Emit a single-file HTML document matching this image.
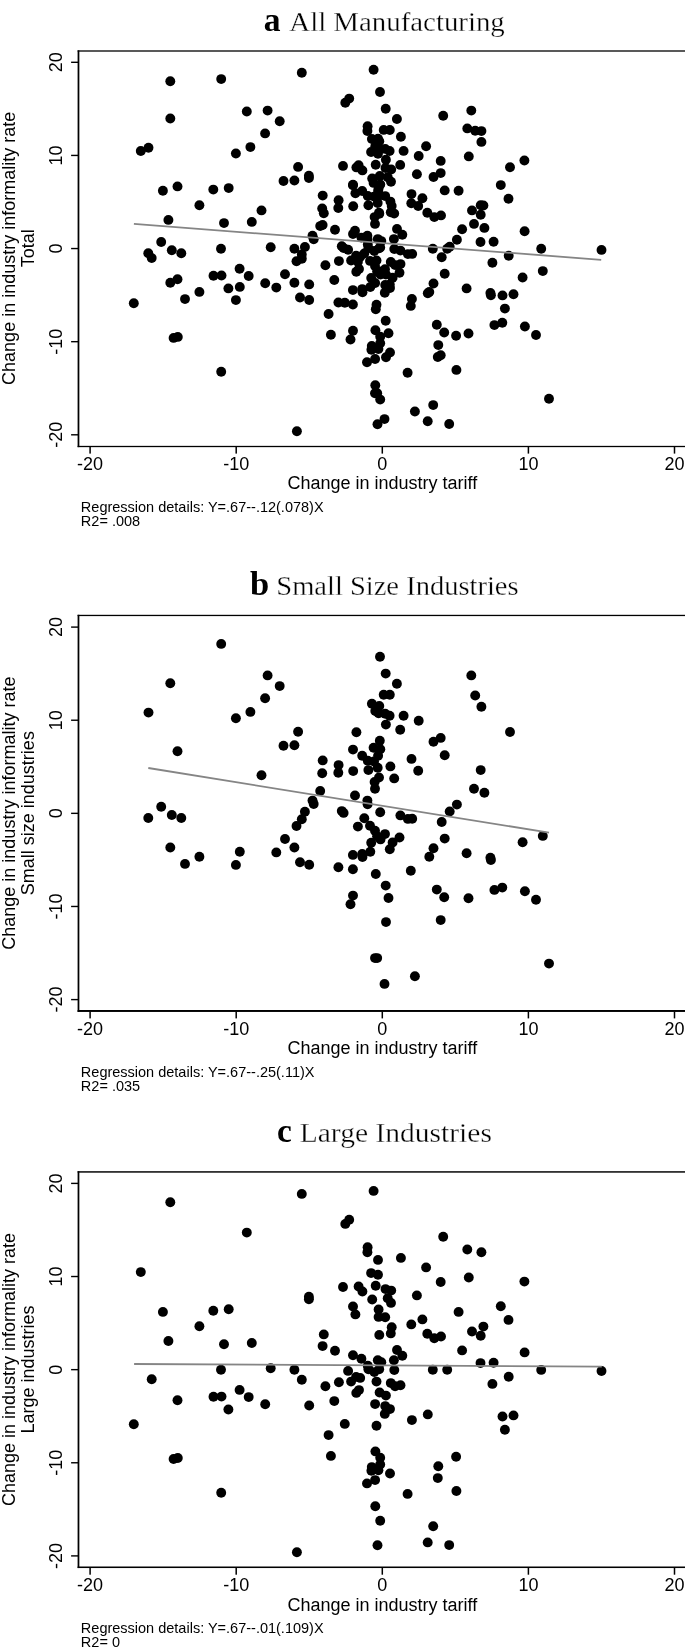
<!DOCTYPE html>
<html><head><meta charset="utf-8"><style>
html,body{margin:0;padding:0;background:#fff;}
svg{display:block;will-change:transform;}
text{-webkit-font-smoothing:antialiased;}
</style></head><body>
<svg width="685" height="1652" viewBox="0 0 685 1652">
<rect width="685" height="1652" fill="#fff"/>
<rect x="77.6" y="50.35" width="622.40" height="1.3" fill="#000"/>
<rect x="77.6" y="50.35" width="1.75" height="396.80" fill="#000"/>
<rect x="77.6" y="445.85" width="622.40" height="1.3" fill="#000"/>
<rect x="71.1" y="61.60" width="7.25" height="1.4" fill="#000"/>
<text x="0" y="0" transform="translate(62.1 62.30) rotate(-90)" text-anchor="middle" font-family='"Liberation Sans", sans-serif' font-size="18">20</text>
<rect x="71.1" y="154.73" width="7.25" height="1.4" fill="#000"/>
<text x="0" y="0" transform="translate(62.1 155.43) rotate(-90)" text-anchor="middle" font-family='"Liberation Sans", sans-serif' font-size="18">10</text>
<rect x="71.1" y="247.85" width="7.25" height="1.4" fill="#000"/>
<text x="0" y="0" transform="translate(62.1 248.55) rotate(-90)" text-anchor="middle" font-family='"Liberation Sans", sans-serif' font-size="18">0</text>
<rect x="71.1" y="340.98" width="7.25" height="1.4" fill="#000"/>
<text x="0" y="0" transform="translate(62.1 341.68) rotate(-90)" text-anchor="middle" font-family='"Liberation Sans", sans-serif' font-size="18">-10</text>
<rect x="71.1" y="434.10" width="7.25" height="1.4" fill="#000"/>
<text x="0" y="0" transform="translate(62.1 434.80) rotate(-90)" text-anchor="middle" font-family='"Liberation Sans", sans-serif' font-size="18">-20</text>
<rect x="89.35" y="446.65" width="1.5" height="6.95" fill="#000"/>
<text x="90.10" y="470.00" text-anchor="middle" font-family='"Liberation Sans", sans-serif' font-size="18">-20</text>
<rect x="235.45" y="446.65" width="1.5" height="6.95" fill="#000"/>
<text x="236.20" y="470.00" text-anchor="middle" font-family='"Liberation Sans", sans-serif' font-size="18">-10</text>
<rect x="381.55" y="446.65" width="1.5" height="6.95" fill="#000"/>
<text x="382.30" y="470.00" text-anchor="middle" font-family='"Liberation Sans", sans-serif' font-size="18">0</text>
<rect x="527.65" y="446.65" width="1.5" height="6.95" fill="#000"/>
<text x="528.40" y="470.00" text-anchor="middle" font-family='"Liberation Sans", sans-serif' font-size="18">10</text>
<rect x="673.75" y="446.65" width="1.5" height="6.95" fill="#000"/>
<text x="674.50" y="470.00" text-anchor="middle" font-family='"Liberation Sans", sans-serif' font-size="18">20</text>
<text x="382.4" y="489.40" text-anchor="middle" font-family='"Liberation Sans", sans-serif' font-size="18">Change in industry tariff</text>
<text transform="translate(15.3 248.35) rotate(-90)" text-anchor="middle" font-family='"Liberation Sans", sans-serif' font-size="18">Change in industry informality rate</text>
<text transform="translate(33.7 248.35) rotate(-90)" text-anchor="middle" font-family='"Liberation Sans", sans-serif' font-size="18">Total</text>
<text x="80.85" y="511.90" font-family='"Liberation Sans", sans-serif' font-size="14.5">Regression details: Y=.67--.12(.078)X</text>
<text x="80.85" y="525.90" font-family='"Liberation Sans", sans-serif' font-size="14.5">R2= .008</text>
<circle cx="221.2" cy="79.1" r="4.95"/>
<circle cx="170.3" cy="118.5" r="4.95"/>
<circle cx="148.5" cy="147.8" r="4.95"/>
<circle cx="235.9" cy="153.5" r="4.95"/>
<circle cx="250.4" cy="147.1" r="4.95"/>
<circle cx="267.6" cy="110.6" r="4.95"/>
<circle cx="279.7" cy="121.3" r="4.95"/>
<circle cx="265.1" cy="133.4" r="4.95"/>
<circle cx="298.1" cy="166.9" r="4.95"/>
<circle cx="380.0" cy="92.0" r="4.95"/>
<circle cx="385.7" cy="108.8" r="4.95"/>
<circle cx="396.9" cy="119.0" r="4.95"/>
<circle cx="383.7" cy="129.9" r="4.95"/>
<circle cx="389.8" cy="130.0" r="4.95"/>
<circle cx="371.9" cy="139.0" r="4.95"/>
<circle cx="379.3" cy="141.2" r="4.95"/>
<circle cx="375.3" cy="146.3" r="4.95"/>
<circle cx="385.2" cy="148.9" r="4.95"/>
<circle cx="389.6" cy="151.0" r="4.95"/>
<circle cx="385.9" cy="159.8" r="4.95"/>
<circle cx="403.6" cy="150.9" r="4.95"/>
<circle cx="400.2" cy="164.9" r="4.95"/>
<circle cx="356.4" cy="167.4" r="4.95"/>
<circle cx="379.8" cy="176.0" r="4.95"/>
<circle cx="471.3" cy="110.6" r="4.95"/>
<circle cx="475.2" cy="130.7" r="4.95"/>
<circle cx="481.4" cy="141.9" r="4.95"/>
<circle cx="418.7" cy="156.0" r="4.95"/>
<circle cx="440.7" cy="173.1" r="4.95"/>
<circle cx="433.5" cy="177.0" r="4.95"/>
<circle cx="510.0" cy="167.2" r="4.95"/>
<circle cx="177.5" cy="186.4" r="4.95"/>
<circle cx="161.2" cy="242.0" r="4.95"/>
<circle cx="148.3" cy="253.2" r="4.95"/>
<circle cx="171.8" cy="250.2" r="4.95"/>
<circle cx="181.3" cy="253.2" r="4.95"/>
<circle cx="170.3" cy="282.7" r="4.95"/>
<circle cx="185.0" cy="299.1" r="4.95"/>
<circle cx="199.4" cy="291.9" r="4.95"/>
<circle cx="239.8" cy="286.9" r="4.95"/>
<circle cx="235.9" cy="300.1" r="4.95"/>
<circle cx="283.5" cy="181.0" r="4.95"/>
<circle cx="294.4" cy="180.5" r="4.95"/>
<circle cx="261.5" cy="210.4" r="4.95"/>
<circle cx="322.7" cy="195.6" r="4.95"/>
<circle cx="322.2" cy="208.4" r="4.95"/>
<circle cx="320.2" cy="226.1" r="4.95"/>
<circle cx="353.0" cy="184.8" r="4.95"/>
<circle cx="373.6" cy="182.9" r="4.95"/>
<circle cx="380.3" cy="184.4" r="4.95"/>
<circle cx="362.2" cy="191.0" r="4.95"/>
<circle cx="378.1" cy="191.0" r="4.95"/>
<circle cx="367.8" cy="196.0" r="4.95"/>
<circle cx="374.0" cy="196.6" r="4.95"/>
<circle cx="338.6" cy="200.3" r="4.95"/>
<circle cx="338.3" cy="208.0" r="4.95"/>
<circle cx="353.2" cy="206.3" r="4.95"/>
<circle cx="368.4" cy="205.3" r="4.95"/>
<circle cx="377.7" cy="203.0" r="4.95"/>
<circle cx="390.4" cy="201.6" r="4.95"/>
<circle cx="379.0" cy="212.7" r="4.95"/>
<circle cx="374.6" cy="217.1" r="4.95"/>
<circle cx="375.0" cy="223.9" r="4.95"/>
<circle cx="394.2" cy="213.6" r="4.95"/>
<circle cx="355.0" cy="230.7" r="4.95"/>
<circle cx="367.4" cy="235.8" r="4.95"/>
<circle cx="367.6" cy="239.5" r="4.95"/>
<circle cx="312.5" cy="235.8" r="4.95"/>
<circle cx="313.7" cy="239.3" r="4.95"/>
<circle cx="304.9" cy="246.9" r="4.95"/>
<circle cx="301.8" cy="254.4" r="4.95"/>
<circle cx="296.5" cy="261.2" r="4.95"/>
<circle cx="285.0" cy="274.2" r="4.95"/>
<circle cx="294.4" cy="282.7" r="4.95"/>
<circle cx="276.3" cy="287.6" r="4.95"/>
<circle cx="300.0" cy="297.5" r="4.95"/>
<circle cx="309.2" cy="300.0" r="4.95"/>
<circle cx="341.8" cy="246.3" r="4.95"/>
<circle cx="343.6" cy="248.1" r="4.95"/>
<circle cx="380.2" cy="247.5" r="4.95"/>
<circle cx="400.4" cy="250.6" r="4.95"/>
<circle cx="407.9" cy="254.1" r="4.95"/>
<circle cx="412.2" cy="253.9" r="4.95"/>
<circle cx="364.3" cy="253.5" r="4.95"/>
<circle cx="357.9" cy="261.8" r="4.95"/>
<circle cx="370.0" cy="260.9" r="4.95"/>
<circle cx="375.0" cy="265.9" r="4.95"/>
<circle cx="385.0" cy="269.3" r="4.95"/>
<circle cx="377.1" cy="271.5" r="4.95"/>
<circle cx="380.5" cy="274.6" r="4.95"/>
<circle cx="371.2" cy="277.9" r="4.95"/>
<circle cx="399.5" cy="272.7" r="4.95"/>
<circle cx="392.6" cy="277.7" r="4.95"/>
<circle cx="389.8" cy="284.5" r="4.95"/>
<circle cx="370.3" cy="287.0" r="4.95"/>
<circle cx="362.2" cy="289.1" r="4.95"/>
<circle cx="362.5" cy="292.3" r="4.95"/>
<circle cx="352.9" cy="290.1" r="4.95"/>
<circle cx="338.4" cy="302.5" r="4.95"/>
<circle cx="352.9" cy="304.5" r="4.95"/>
<circle cx="411.5" cy="194.1" r="4.95"/>
<circle cx="444.7" cy="190.4" r="4.95"/>
<circle cx="418.2" cy="206.0" r="4.95"/>
<circle cx="480.7" cy="205.3" r="4.95"/>
<circle cx="474.0" cy="223.9" r="4.95"/>
<circle cx="484.4" cy="227.9" r="4.95"/>
<circle cx="456.9" cy="239.8" r="4.95"/>
<circle cx="449.7" cy="246.7" r="4.95"/>
<circle cx="441.7" cy="257.2" r="4.95"/>
<circle cx="444.7" cy="273.8" r="4.95"/>
<circle cx="433.5" cy="283.5" r="4.95"/>
<circle cx="429.3" cy="291.9" r="4.95"/>
<circle cx="466.6" cy="288.4" r="4.95"/>
<circle cx="490.4" cy="292.9" r="4.95"/>
<circle cx="490.9" cy="295.3" r="4.95"/>
<circle cx="522.6" cy="277.5" r="4.95"/>
<circle cx="542.8" cy="271.1" r="4.95"/>
<circle cx="375.8" cy="309.2" r="4.95"/>
<circle cx="410.8" cy="305.9" r="4.95"/>
<circle cx="385.7" cy="320.8" r="4.95"/>
<circle cx="388.5" cy="333.2" r="4.95"/>
<circle cx="353.0" cy="330.8" r="4.95"/>
<circle cx="350.5" cy="339.5" r="4.95"/>
<circle cx="386.0" cy="357.3" r="4.95"/>
<circle cx="375.0" cy="393.3" r="4.95"/>
<circle cx="377.2" cy="393.3" r="4.95"/>
<circle cx="384.5" cy="419.1" r="4.95"/>
<circle cx="414.9" cy="411.5" r="4.95"/>
<circle cx="436.8" cy="324.8" r="4.95"/>
<circle cx="444.2" cy="332.5" r="4.95"/>
<circle cx="468.5" cy="333.5" r="4.95"/>
<circle cx="494.4" cy="325.1" r="4.95"/>
<circle cx="502.3" cy="322.8" r="4.95"/>
<circle cx="524.9" cy="326.5" r="4.95"/>
<circle cx="536.0" cy="335.0" r="4.95"/>
<circle cx="440.7" cy="355.3" r="4.95"/>
<circle cx="549.0" cy="398.8" r="4.95"/>
<circle cx="378.6" cy="148.5" r="4.95"/>
<circle cx="170.3" cy="81.2" r="4.95"/>
<circle cx="140.8" cy="151.0" r="4.95"/>
<circle cx="246.8" cy="111.5" r="4.95"/>
<circle cx="301.8" cy="72.8" r="4.95"/>
<circle cx="373.6" cy="69.8" r="4.95"/>
<circle cx="349.2" cy="98.6" r="4.95"/>
<circle cx="345.3" cy="102.8" r="4.95"/>
<circle cx="367.6" cy="126.2" r="4.95"/>
<circle cx="367.4" cy="131.1" r="4.95"/>
<circle cx="378.0" cy="138.8" r="4.95"/>
<circle cx="400.9" cy="136.8" r="4.95"/>
<circle cx="371.1" cy="152.0" r="4.95"/>
<circle cx="378.0" cy="153.7" r="4.95"/>
<circle cx="343.0" cy="165.9" r="4.95"/>
<circle cx="358.6" cy="165.3" r="4.95"/>
<circle cx="362.4" cy="170.4" r="4.95"/>
<circle cx="375.7" cy="164.7" r="4.95"/>
<circle cx="385.5" cy="168.0" r="4.95"/>
<circle cx="391.2" cy="169.5" r="4.95"/>
<circle cx="443.2" cy="115.7" r="4.95"/>
<circle cx="467.3" cy="128.4" r="4.95"/>
<circle cx="481.4" cy="131.1" r="4.95"/>
<circle cx="426.1" cy="146.3" r="4.95"/>
<circle cx="440.7" cy="160.9" r="4.95"/>
<circle cx="468.8" cy="156.4" r="4.95"/>
<circle cx="524.4" cy="160.5" r="4.95"/>
<circle cx="416.9" cy="174.3" r="4.95"/>
<circle cx="162.9" cy="190.8" r="4.95"/>
<circle cx="213.3" cy="189.6" r="4.95"/>
<circle cx="228.7" cy="188.1" r="4.95"/>
<circle cx="199.4" cy="205.2" r="4.95"/>
<circle cx="168.4" cy="219.9" r="4.95"/>
<circle cx="224.0" cy="223.1" r="4.95"/>
<circle cx="221.0" cy="248.7" r="4.95"/>
<circle cx="151.7" cy="258.1" r="4.95"/>
<circle cx="177.5" cy="279.2" r="4.95"/>
<circle cx="213.5" cy="275.7" r="4.95"/>
<circle cx="221.5" cy="275.5" r="4.95"/>
<circle cx="239.6" cy="268.8" r="4.95"/>
<circle cx="248.7" cy="276.0" r="4.95"/>
<circle cx="228.4" cy="288.4" r="4.95"/>
<circle cx="133.8" cy="303.2" r="4.95"/>
<circle cx="308.9" cy="175.7" r="4.95"/>
<circle cx="308.9" cy="178.1" r="4.95"/>
<circle cx="251.8" cy="221.9" r="4.95"/>
<circle cx="323.8" cy="213.3" r="4.95"/>
<circle cx="322.6" cy="225.0" r="4.95"/>
<circle cx="372.2" cy="178.4" r="4.95"/>
<circle cx="387.7" cy="177.2" r="4.95"/>
<circle cx="391.0" cy="181.8" r="4.95"/>
<circle cx="353.0" cy="185.3" r="4.95"/>
<circle cx="355.4" cy="193.3" r="4.95"/>
<circle cx="378.6" cy="188.4" r="4.95"/>
<circle cx="378.6" cy="195.8" r="4.95"/>
<circle cx="385.2" cy="196.1" r="4.95"/>
<circle cx="391.7" cy="206.1" r="4.95"/>
<circle cx="390.8" cy="212.3" r="4.95"/>
<circle cx="379.3" cy="213.8" r="4.95"/>
<circle cx="411.3" cy="203.3" r="4.95"/>
<circle cx="335.0" cy="229.7" r="4.95"/>
<circle cx="353.0" cy="234.1" r="4.95"/>
<circle cx="361.4" cy="237.6" r="4.95"/>
<circle cx="377.8" cy="239.1" r="4.95"/>
<circle cx="381.3" cy="241.1" r="4.95"/>
<circle cx="367.8" cy="244.6" r="4.95"/>
<circle cx="368.4" cy="248.2" r="4.95"/>
<circle cx="374.3" cy="251.0" r="4.95"/>
<circle cx="379.2" cy="248.2" r="4.95"/>
<circle cx="397.0" cy="228.9" r="4.95"/>
<circle cx="402.3" cy="234.7" r="4.95"/>
<circle cx="393.9" cy="239.1" r="4.95"/>
<circle cx="394.3" cy="249.0" r="4.95"/>
<circle cx="348.1" cy="249.8" r="4.95"/>
<circle cx="338.9" cy="261.1" r="4.95"/>
<circle cx="351.1" cy="260.5" r="4.95"/>
<circle cx="356.1" cy="255.8" r="4.95"/>
<circle cx="360.2" cy="256.8" r="4.95"/>
<circle cx="376.5" cy="260.5" r="4.95"/>
<circle cx="390.8" cy="262.0" r="4.95"/>
<circle cx="395.1" cy="265.1" r="4.95"/>
<circle cx="400.5" cy="264.1" r="4.95"/>
<circle cx="356.3" cy="271.8" r="4.95"/>
<circle cx="359.0" cy="269.0" r="4.95"/>
<circle cx="379.6" cy="271.4" r="4.95"/>
<circle cx="385.9" cy="274.5" r="4.95"/>
<circle cx="334.3" cy="280.0" r="4.95"/>
<circle cx="270.7" cy="247.2" r="4.95"/>
<circle cx="294.4" cy="248.7" r="4.95"/>
<circle cx="301.8" cy="258.7" r="4.95"/>
<circle cx="325.4" cy="265.2" r="4.95"/>
<circle cx="265.2" cy="283.2" r="4.95"/>
<circle cx="309.2" cy="284.4" r="4.95"/>
<circle cx="375.1" cy="283.0" r="4.95"/>
<circle cx="385.2" cy="285.0" r="4.95"/>
<circle cx="390.0" cy="288.0" r="4.95"/>
<circle cx="384.8" cy="292.8" r="4.95"/>
<circle cx="411.9" cy="299.0" r="4.95"/>
<circle cx="376.5" cy="304.7" r="4.95"/>
<circle cx="422.4" cy="198.3" r="4.95"/>
<circle cx="458.6" cy="190.8" r="4.95"/>
<circle cx="500.8" cy="185.1" r="4.95"/>
<circle cx="508.5" cy="198.8" r="4.95"/>
<circle cx="427.3" cy="212.7" r="4.95"/>
<circle cx="434.3" cy="217.1" r="4.95"/>
<circle cx="441.0" cy="215.4" r="4.95"/>
<circle cx="472.0" cy="210.4" r="4.95"/>
<circle cx="483.4" cy="205.5" r="4.95"/>
<circle cx="480.7" cy="214.7" r="4.95"/>
<circle cx="462.1" cy="229.3" r="4.95"/>
<circle cx="524.6" cy="231.3" r="4.95"/>
<circle cx="432.8" cy="248.7" r="4.95"/>
<circle cx="447.2" cy="248.7" r="4.95"/>
<circle cx="480.5" cy="242.0" r="4.95"/>
<circle cx="493.6" cy="241.7" r="4.95"/>
<circle cx="541.2" cy="248.8" r="4.95"/>
<circle cx="508.7" cy="255.7" r="4.95"/>
<circle cx="492.4" cy="262.8" r="4.95"/>
<circle cx="427.8" cy="293.3" r="4.95"/>
<circle cx="502.5" cy="295.4" r="4.95"/>
<circle cx="513.5" cy="294.3" r="4.95"/>
<circle cx="601.5" cy="249.9" r="4.95"/>
<circle cx="504.9" cy="308.6" r="4.95"/>
<circle cx="173.6" cy="337.9" r="4.95"/>
<circle cx="177.8" cy="336.9" r="4.95"/>
<circle cx="221.2" cy="371.7" r="4.95"/>
<circle cx="344.8" cy="302.8" r="4.95"/>
<circle cx="328.6" cy="314.0" r="4.95"/>
<circle cx="330.9" cy="334.8" r="4.95"/>
<circle cx="375.4" cy="330.3" r="4.95"/>
<circle cx="380.2" cy="336.7" r="4.95"/>
<circle cx="380.2" cy="343.3" r="4.95"/>
<circle cx="378.4" cy="349.1" r="4.95"/>
<circle cx="371.8" cy="346.0" r="4.95"/>
<circle cx="371.4" cy="349.7" r="4.95"/>
<circle cx="375.1" cy="359.0" r="4.95"/>
<circle cx="367.0" cy="362.3" r="4.95"/>
<circle cx="390.0" cy="352.4" r="4.95"/>
<circle cx="407.6" cy="372.8" r="4.95"/>
<circle cx="375.3" cy="385.2" r="4.95"/>
<circle cx="380.2" cy="399.6" r="4.95"/>
<circle cx="456.1" cy="335.7" r="4.95"/>
<circle cx="438.3" cy="345.1" r="4.95"/>
<circle cx="437.8" cy="357.0" r="4.95"/>
<circle cx="456.4" cy="369.9" r="4.95"/>
<circle cx="433.2" cy="405.1" r="4.95"/>
<circle cx="427.7" cy="421.3" r="4.95"/>
<circle cx="449.2" cy="424.0" r="4.95"/>
<circle cx="296.9" cy="431.2" r="4.95"/>
<circle cx="377.5" cy="424.2" r="4.95"/>
<line x1="133.9" y1="223.9" x2="601.2" y2="259.8" stroke="#858585" stroke-width="1.8"/>
<text x="263.7" y="30.6" font-family='"Liberation Serif", serif' font-weight="bold" font-size="34" textLength="16.8" lengthAdjust="spacingAndGlyphs">a</text>
<text x="289.3" y="30.6" font-family='"Liberation Serif", serif' font-size="26.5" textLength="215.5" lengthAdjust="spacingAndGlyphs" stroke="#fff" stroke-width="0.3">All Manufacturing</text>
<rect x="77.6" y="614.80" width="622.40" height="1.3" fill="#000"/>
<rect x="77.6" y="614.80" width="1.75" height="397.15" fill="#000"/>
<rect x="77.6" y="1010.00" width="622.40" height="1.95" fill="#000"/>
<rect x="71.1" y="626.40" width="7.25" height="1.4" fill="#000"/>
<text x="0" y="0" transform="translate(62.1 627.10) rotate(-90)" text-anchor="middle" font-family='"Liberation Sans", sans-serif' font-size="18">20</text>
<rect x="71.1" y="719.52" width="7.25" height="1.4" fill="#000"/>
<text x="0" y="0" transform="translate(62.1 720.22) rotate(-90)" text-anchor="middle" font-family='"Liberation Sans", sans-serif' font-size="18">10</text>
<rect x="71.1" y="812.65" width="7.25" height="1.4" fill="#000"/>
<text x="0" y="0" transform="translate(62.1 813.35) rotate(-90)" text-anchor="middle" font-family='"Liberation Sans", sans-serif' font-size="18">0</text>
<rect x="71.1" y="905.77" width="7.25" height="1.4" fill="#000"/>
<text x="0" y="0" transform="translate(62.1 906.47) rotate(-90)" text-anchor="middle" font-family='"Liberation Sans", sans-serif' font-size="18">-10</text>
<rect x="71.1" y="998.90" width="7.25" height="1.4" fill="#000"/>
<text x="0" y="0" transform="translate(62.1 999.60) rotate(-90)" text-anchor="middle" font-family='"Liberation Sans", sans-serif' font-size="18">-20</text>
<rect x="89.35" y="1011.45" width="1.5" height="6.95" fill="#000"/>
<text x="90.10" y="1034.80" text-anchor="middle" font-family='"Liberation Sans", sans-serif' font-size="18">-20</text>
<rect x="235.45" y="1011.45" width="1.5" height="6.95" fill="#000"/>
<text x="236.20" y="1034.80" text-anchor="middle" font-family='"Liberation Sans", sans-serif' font-size="18">-10</text>
<rect x="381.55" y="1011.45" width="1.5" height="6.95" fill="#000"/>
<text x="382.30" y="1034.80" text-anchor="middle" font-family='"Liberation Sans", sans-serif' font-size="18">0</text>
<rect x="527.65" y="1011.45" width="1.5" height="6.95" fill="#000"/>
<text x="528.40" y="1034.80" text-anchor="middle" font-family='"Liberation Sans", sans-serif' font-size="18">10</text>
<rect x="673.75" y="1011.45" width="1.5" height="6.95" fill="#000"/>
<text x="674.50" y="1034.80" text-anchor="middle" font-family='"Liberation Sans", sans-serif' font-size="18">20</text>
<text x="382.4" y="1054.20" text-anchor="middle" font-family='"Liberation Sans", sans-serif' font-size="18">Change in industry tariff</text>
<text transform="translate(15.3 813.15) rotate(-90)" text-anchor="middle" font-family='"Liberation Sans", sans-serif' font-size="18">Change in industry informality rate</text>
<text transform="translate(33.7 813.15) rotate(-90)" text-anchor="middle" font-family='"Liberation Sans", sans-serif' font-size="18">Small size industries</text>
<text x="80.85" y="1076.70" font-family='"Liberation Sans", sans-serif' font-size="14.5">Regression details: Y=.67--.25(.11)X</text>
<text x="80.85" y="1090.70" font-family='"Liberation Sans", sans-serif' font-size="14.5">R2= .035</text>
<circle cx="221.2" cy="643.9" r="4.95"/>
<circle cx="170.3" cy="683.3" r="4.95"/>
<circle cx="148.5" cy="712.6" r="4.95"/>
<circle cx="235.9" cy="718.3" r="4.95"/>
<circle cx="250.4" cy="711.9" r="4.95"/>
<circle cx="267.6" cy="675.4" r="4.95"/>
<circle cx="279.7" cy="686.1" r="4.95"/>
<circle cx="265.1" cy="698.2" r="4.95"/>
<circle cx="298.1" cy="731.7" r="4.95"/>
<circle cx="380.0" cy="656.8" r="4.95"/>
<circle cx="385.7" cy="673.6" r="4.95"/>
<circle cx="396.9" cy="683.8" r="4.95"/>
<circle cx="383.7" cy="694.7" r="4.95"/>
<circle cx="389.8" cy="694.8" r="4.95"/>
<circle cx="371.9" cy="703.8" r="4.95"/>
<circle cx="379.3" cy="706.0" r="4.95"/>
<circle cx="375.3" cy="711.1" r="4.95"/>
<circle cx="385.2" cy="713.7" r="4.95"/>
<circle cx="389.6" cy="715.8" r="4.95"/>
<circle cx="385.9" cy="724.6" r="4.95"/>
<circle cx="403.6" cy="715.7" r="4.95"/>
<circle cx="400.2" cy="729.7" r="4.95"/>
<circle cx="356.4" cy="732.2" r="4.95"/>
<circle cx="379.8" cy="740.8" r="4.95"/>
<circle cx="471.3" cy="675.4" r="4.95"/>
<circle cx="475.2" cy="695.5" r="4.95"/>
<circle cx="481.4" cy="706.7" r="4.95"/>
<circle cx="418.7" cy="720.8" r="4.95"/>
<circle cx="440.7" cy="737.9" r="4.95"/>
<circle cx="433.5" cy="741.8" r="4.95"/>
<circle cx="510.0" cy="732.0" r="4.95"/>
<circle cx="177.5" cy="751.2" r="4.95"/>
<circle cx="161.2" cy="806.8" r="4.95"/>
<circle cx="148.3" cy="818.0" r="4.95"/>
<circle cx="171.8" cy="815.0" r="4.95"/>
<circle cx="181.3" cy="818.0" r="4.95"/>
<circle cx="170.3" cy="847.5" r="4.95"/>
<circle cx="185.0" cy="863.9" r="4.95"/>
<circle cx="199.4" cy="856.7" r="4.95"/>
<circle cx="239.8" cy="851.7" r="4.95"/>
<circle cx="235.9" cy="864.9" r="4.95"/>
<circle cx="283.5" cy="745.8" r="4.95"/>
<circle cx="294.4" cy="745.3" r="4.95"/>
<circle cx="261.5" cy="775.2" r="4.95"/>
<circle cx="322.7" cy="760.4" r="4.95"/>
<circle cx="322.2" cy="773.2" r="4.95"/>
<circle cx="320.2" cy="790.9" r="4.95"/>
<circle cx="353.0" cy="749.6" r="4.95"/>
<circle cx="373.6" cy="747.7" r="4.95"/>
<circle cx="380.3" cy="749.2" r="4.95"/>
<circle cx="362.2" cy="755.8" r="4.95"/>
<circle cx="378.1" cy="755.8" r="4.95"/>
<circle cx="367.8" cy="760.8" r="4.95"/>
<circle cx="374.0" cy="761.4" r="4.95"/>
<circle cx="338.6" cy="765.1" r="4.95"/>
<circle cx="338.3" cy="772.8" r="4.95"/>
<circle cx="353.2" cy="771.1" r="4.95"/>
<circle cx="368.4" cy="770.1" r="4.95"/>
<circle cx="377.7" cy="767.8" r="4.95"/>
<circle cx="390.4" cy="766.4" r="4.95"/>
<circle cx="379.0" cy="777.5" r="4.95"/>
<circle cx="374.6" cy="781.9" r="4.95"/>
<circle cx="375.0" cy="788.7" r="4.95"/>
<circle cx="394.2" cy="778.4" r="4.95"/>
<circle cx="355.0" cy="795.5" r="4.95"/>
<circle cx="367.4" cy="800.6" r="4.95"/>
<circle cx="367.6" cy="804.3" r="4.95"/>
<circle cx="312.5" cy="800.6" r="4.95"/>
<circle cx="313.7" cy="804.1" r="4.95"/>
<circle cx="304.9" cy="811.7" r="4.95"/>
<circle cx="301.8" cy="819.2" r="4.95"/>
<circle cx="296.5" cy="826.0" r="4.95"/>
<circle cx="285.0" cy="839.0" r="4.95"/>
<circle cx="294.4" cy="847.5" r="4.95"/>
<circle cx="276.3" cy="852.4" r="4.95"/>
<circle cx="300.0" cy="862.3" r="4.95"/>
<circle cx="309.2" cy="864.8" r="4.95"/>
<circle cx="341.8" cy="811.1" r="4.95"/>
<circle cx="343.6" cy="812.9" r="4.95"/>
<circle cx="380.2" cy="812.3" r="4.95"/>
<circle cx="400.4" cy="815.4" r="4.95"/>
<circle cx="407.9" cy="818.9" r="4.95"/>
<circle cx="412.2" cy="818.7" r="4.95"/>
<circle cx="364.3" cy="818.3" r="4.95"/>
<circle cx="357.9" cy="826.6" r="4.95"/>
<circle cx="370.0" cy="825.7" r="4.95"/>
<circle cx="375.0" cy="830.7" r="4.95"/>
<circle cx="385.0" cy="834.1" r="4.95"/>
<circle cx="377.1" cy="836.3" r="4.95"/>
<circle cx="380.5" cy="839.4" r="4.95"/>
<circle cx="371.2" cy="842.7" r="4.95"/>
<circle cx="399.5" cy="837.5" r="4.95"/>
<circle cx="392.6" cy="842.5" r="4.95"/>
<circle cx="389.8" cy="849.3" r="4.95"/>
<circle cx="370.3" cy="851.8" r="4.95"/>
<circle cx="362.2" cy="853.9" r="4.95"/>
<circle cx="362.5" cy="857.1" r="4.95"/>
<circle cx="352.9" cy="854.9" r="4.95"/>
<circle cx="338.4" cy="867.3" r="4.95"/>
<circle cx="352.9" cy="869.3" r="4.95"/>
<circle cx="411.5" cy="758.9" r="4.95"/>
<circle cx="444.7" cy="755.2" r="4.95"/>
<circle cx="418.2" cy="770.8" r="4.95"/>
<circle cx="480.7" cy="770.1" r="4.95"/>
<circle cx="474.0" cy="788.7" r="4.95"/>
<circle cx="484.4" cy="792.7" r="4.95"/>
<circle cx="456.9" cy="804.6" r="4.95"/>
<circle cx="449.7" cy="811.5" r="4.95"/>
<circle cx="441.7" cy="822.0" r="4.95"/>
<circle cx="444.7" cy="838.6" r="4.95"/>
<circle cx="433.5" cy="848.3" r="4.95"/>
<circle cx="429.3" cy="856.7" r="4.95"/>
<circle cx="466.6" cy="853.2" r="4.95"/>
<circle cx="490.4" cy="857.7" r="4.95"/>
<circle cx="490.9" cy="860.1" r="4.95"/>
<circle cx="522.6" cy="842.3" r="4.95"/>
<circle cx="542.8" cy="835.9" r="4.95"/>
<circle cx="375.8" cy="874.0" r="4.95"/>
<circle cx="410.8" cy="870.7" r="4.95"/>
<circle cx="385.7" cy="885.6" r="4.95"/>
<circle cx="388.5" cy="898.0" r="4.95"/>
<circle cx="353.0" cy="895.6" r="4.95"/>
<circle cx="350.5" cy="904.3" r="4.95"/>
<circle cx="386.0" cy="922.1" r="4.95"/>
<circle cx="375.0" cy="958.1" r="4.95"/>
<circle cx="377.2" cy="958.1" r="4.95"/>
<circle cx="384.5" cy="983.9" r="4.95"/>
<circle cx="414.9" cy="976.3" r="4.95"/>
<circle cx="436.8" cy="889.6" r="4.95"/>
<circle cx="444.2" cy="897.3" r="4.95"/>
<circle cx="468.5" cy="898.3" r="4.95"/>
<circle cx="494.4" cy="889.9" r="4.95"/>
<circle cx="502.3" cy="887.6" r="4.95"/>
<circle cx="524.9" cy="891.3" r="4.95"/>
<circle cx="536.0" cy="899.8" r="4.95"/>
<circle cx="440.7" cy="920.1" r="4.95"/>
<circle cx="549.0" cy="963.6" r="4.95"/>
<circle cx="378.6" cy="713.3" r="4.95"/>
<line x1="148.3" y1="768.0" x2="549.0" y2="832.6" stroke="#858585" stroke-width="1.8"/>
<text x="250.0" y="594.6" font-family='"Liberation Serif", serif' font-weight="bold" font-size="34" textLength="19.2" lengthAdjust="spacingAndGlyphs">b</text>
<text x="276.3" y="594.6" font-family='"Liberation Serif", serif' font-size="26.5" textLength="242.3" lengthAdjust="spacingAndGlyphs" stroke="#fff" stroke-width="0.3">Small Size Industries</text>
<rect x="77.6" y="1171.20" width="622.40" height="1.46" fill="#000"/>
<rect x="77.6" y="1171.20" width="1.75" height="396.85" fill="#000"/>
<rect x="77.6" y="1566.50" width="622.40" height="1.55" fill="#000"/>
<rect x="71.1" y="1182.70" width="7.25" height="1.4" fill="#000"/>
<text x="0" y="0" transform="translate(62.1 1183.40) rotate(-90)" text-anchor="middle" font-family='"Liberation Sans", sans-serif' font-size="18">20</text>
<rect x="71.1" y="1275.82" width="7.25" height="1.4" fill="#000"/>
<text x="0" y="0" transform="translate(62.1 1276.52) rotate(-90)" text-anchor="middle" font-family='"Liberation Sans", sans-serif' font-size="18">10</text>
<rect x="71.1" y="1368.95" width="7.25" height="1.4" fill="#000"/>
<text x="0" y="0" transform="translate(62.1 1369.65) rotate(-90)" text-anchor="middle" font-family='"Liberation Sans", sans-serif' font-size="18">0</text>
<rect x="71.1" y="1462.07" width="7.25" height="1.4" fill="#000"/>
<text x="0" y="0" transform="translate(62.1 1462.77) rotate(-90)" text-anchor="middle" font-family='"Liberation Sans", sans-serif' font-size="18">-10</text>
<rect x="71.1" y="1555.20" width="7.25" height="1.4" fill="#000"/>
<text x="0" y="0" transform="translate(62.1 1555.90) rotate(-90)" text-anchor="middle" font-family='"Liberation Sans", sans-serif' font-size="18">-20</text>
<rect x="89.35" y="1567.55" width="1.5" height="7.15" fill="#000"/>
<text x="90.10" y="1591.10" text-anchor="middle" font-family='"Liberation Sans", sans-serif' font-size="18">-20</text>
<rect x="235.45" y="1567.55" width="1.5" height="7.15" fill="#000"/>
<text x="236.20" y="1591.10" text-anchor="middle" font-family='"Liberation Sans", sans-serif' font-size="18">-10</text>
<rect x="381.55" y="1567.55" width="1.5" height="7.15" fill="#000"/>
<text x="382.30" y="1591.10" text-anchor="middle" font-family='"Liberation Sans", sans-serif' font-size="18">0</text>
<rect x="527.65" y="1567.55" width="1.5" height="7.15" fill="#000"/>
<text x="528.40" y="1591.10" text-anchor="middle" font-family='"Liberation Sans", sans-serif' font-size="18">10</text>
<rect x="673.75" y="1567.55" width="1.5" height="7.15" fill="#000"/>
<text x="674.50" y="1591.10" text-anchor="middle" font-family='"Liberation Sans", sans-serif' font-size="18">20</text>
<text x="382.4" y="1610.50" text-anchor="middle" font-family='"Liberation Sans", sans-serif' font-size="18">Change in industry tariff</text>
<text transform="translate(15.3 1369.45) rotate(-90)" text-anchor="middle" font-family='"Liberation Sans", sans-serif' font-size="18">Change in industry informality rate</text>
<text transform="translate(33.7 1369.45) rotate(-90)" text-anchor="middle" font-family='"Liberation Sans", sans-serif' font-size="18">Large industries</text>
<text x="80.85" y="1633.00" font-family='"Liberation Sans", sans-serif' font-size="14.5">Regression details: Y=.67--.01(.109)X</text>
<text x="80.85" y="1647.00" font-family='"Liberation Sans", sans-serif' font-size="14.5">R2= 0</text>
<circle cx="170.3" cy="1202.3" r="4.95"/>
<circle cx="140.8" cy="1272.1" r="4.95"/>
<circle cx="246.8" cy="1232.6" r="4.95"/>
<circle cx="301.8" cy="1193.9" r="4.95"/>
<circle cx="373.6" cy="1190.9" r="4.95"/>
<circle cx="349.2" cy="1219.7" r="4.95"/>
<circle cx="345.3" cy="1223.9" r="4.95"/>
<circle cx="367.6" cy="1247.3" r="4.95"/>
<circle cx="367.4" cy="1252.2" r="4.95"/>
<circle cx="378.0" cy="1259.9" r="4.95"/>
<circle cx="400.9" cy="1257.9" r="4.95"/>
<circle cx="371.1" cy="1273.1" r="4.95"/>
<circle cx="378.0" cy="1274.8" r="4.95"/>
<circle cx="343.0" cy="1287.0" r="4.95"/>
<circle cx="358.6" cy="1286.4" r="4.95"/>
<circle cx="362.4" cy="1291.5" r="4.95"/>
<circle cx="375.7" cy="1285.8" r="4.95"/>
<circle cx="385.5" cy="1289.1" r="4.95"/>
<circle cx="391.2" cy="1290.6" r="4.95"/>
<circle cx="443.2" cy="1236.8" r="4.95"/>
<circle cx="467.3" cy="1249.5" r="4.95"/>
<circle cx="481.4" cy="1252.2" r="4.95"/>
<circle cx="426.1" cy="1267.4" r="4.95"/>
<circle cx="440.7" cy="1282.0" r="4.95"/>
<circle cx="468.8" cy="1277.5" r="4.95"/>
<circle cx="524.4" cy="1281.6" r="4.95"/>
<circle cx="416.9" cy="1295.4" r="4.95"/>
<circle cx="162.9" cy="1311.9" r="4.95"/>
<circle cx="213.3" cy="1310.7" r="4.95"/>
<circle cx="228.7" cy="1309.2" r="4.95"/>
<circle cx="199.4" cy="1326.3" r="4.95"/>
<circle cx="168.4" cy="1341.0" r="4.95"/>
<circle cx="224.0" cy="1344.2" r="4.95"/>
<circle cx="221.0" cy="1369.8" r="4.95"/>
<circle cx="151.7" cy="1379.2" r="4.95"/>
<circle cx="177.5" cy="1400.3" r="4.95"/>
<circle cx="213.5" cy="1396.8" r="4.95"/>
<circle cx="221.5" cy="1396.6" r="4.95"/>
<circle cx="239.6" cy="1389.9" r="4.95"/>
<circle cx="248.7" cy="1397.1" r="4.95"/>
<circle cx="228.4" cy="1409.5" r="4.95"/>
<circle cx="133.8" cy="1424.3" r="4.95"/>
<circle cx="308.9" cy="1296.8" r="4.95"/>
<circle cx="308.9" cy="1299.2" r="4.95"/>
<circle cx="251.8" cy="1343.0" r="4.95"/>
<circle cx="323.8" cy="1334.4" r="4.95"/>
<circle cx="322.6" cy="1346.1" r="4.95"/>
<circle cx="372.2" cy="1299.5" r="4.95"/>
<circle cx="387.7" cy="1298.3" r="4.95"/>
<circle cx="391.0" cy="1302.9" r="4.95"/>
<circle cx="353.0" cy="1306.4" r="4.95"/>
<circle cx="355.4" cy="1314.4" r="4.95"/>
<circle cx="378.6" cy="1309.5" r="4.95"/>
<circle cx="378.6" cy="1316.9" r="4.95"/>
<circle cx="385.2" cy="1317.2" r="4.95"/>
<circle cx="391.7" cy="1327.2" r="4.95"/>
<circle cx="390.8" cy="1333.4" r="4.95"/>
<circle cx="379.3" cy="1334.9" r="4.95"/>
<circle cx="411.3" cy="1324.4" r="4.95"/>
<circle cx="335.0" cy="1350.8" r="4.95"/>
<circle cx="353.0" cy="1355.2" r="4.95"/>
<circle cx="361.4" cy="1358.7" r="4.95"/>
<circle cx="377.8" cy="1360.2" r="4.95"/>
<circle cx="381.3" cy="1362.2" r="4.95"/>
<circle cx="367.8" cy="1365.7" r="4.95"/>
<circle cx="368.4" cy="1369.3" r="4.95"/>
<circle cx="374.3" cy="1372.1" r="4.95"/>
<circle cx="379.2" cy="1369.3" r="4.95"/>
<circle cx="397.0" cy="1350.0" r="4.95"/>
<circle cx="402.3" cy="1355.8" r="4.95"/>
<circle cx="393.9" cy="1360.2" r="4.95"/>
<circle cx="394.3" cy="1370.1" r="4.95"/>
<circle cx="348.1" cy="1370.9" r="4.95"/>
<circle cx="338.9" cy="1382.2" r="4.95"/>
<circle cx="351.1" cy="1381.6" r="4.95"/>
<circle cx="356.1" cy="1376.9" r="4.95"/>
<circle cx="360.2" cy="1377.9" r="4.95"/>
<circle cx="376.5" cy="1381.6" r="4.95"/>
<circle cx="390.8" cy="1383.1" r="4.95"/>
<circle cx="395.1" cy="1386.2" r="4.95"/>
<circle cx="400.5" cy="1385.2" r="4.95"/>
<circle cx="356.3" cy="1392.9" r="4.95"/>
<circle cx="359.0" cy="1390.1" r="4.95"/>
<circle cx="379.6" cy="1392.5" r="4.95"/>
<circle cx="385.9" cy="1395.6" r="4.95"/>
<circle cx="334.3" cy="1401.1" r="4.95"/>
<circle cx="270.7" cy="1368.3" r="4.95"/>
<circle cx="294.4" cy="1369.8" r="4.95"/>
<circle cx="301.8" cy="1379.8" r="4.95"/>
<circle cx="325.4" cy="1386.3" r="4.95"/>
<circle cx="265.2" cy="1404.3" r="4.95"/>
<circle cx="309.2" cy="1405.5" r="4.95"/>
<circle cx="375.1" cy="1404.1" r="4.95"/>
<circle cx="385.2" cy="1406.1" r="4.95"/>
<circle cx="390.0" cy="1409.1" r="4.95"/>
<circle cx="384.8" cy="1413.9" r="4.95"/>
<circle cx="411.9" cy="1420.1" r="4.95"/>
<circle cx="376.5" cy="1425.8" r="4.95"/>
<circle cx="422.4" cy="1319.4" r="4.95"/>
<circle cx="458.6" cy="1311.9" r="4.95"/>
<circle cx="500.8" cy="1306.2" r="4.95"/>
<circle cx="508.5" cy="1319.9" r="4.95"/>
<circle cx="427.3" cy="1333.8" r="4.95"/>
<circle cx="434.3" cy="1338.2" r="4.95"/>
<circle cx="441.0" cy="1336.5" r="4.95"/>
<circle cx="472.0" cy="1331.5" r="4.95"/>
<circle cx="483.4" cy="1326.6" r="4.95"/>
<circle cx="480.7" cy="1335.8" r="4.95"/>
<circle cx="462.1" cy="1350.4" r="4.95"/>
<circle cx="524.6" cy="1352.4" r="4.95"/>
<circle cx="432.8" cy="1369.8" r="4.95"/>
<circle cx="447.2" cy="1369.8" r="4.95"/>
<circle cx="480.5" cy="1363.1" r="4.95"/>
<circle cx="493.6" cy="1362.8" r="4.95"/>
<circle cx="541.2" cy="1369.9" r="4.95"/>
<circle cx="508.7" cy="1376.8" r="4.95"/>
<circle cx="492.4" cy="1383.9" r="4.95"/>
<circle cx="427.8" cy="1414.4" r="4.95"/>
<circle cx="502.5" cy="1416.5" r="4.95"/>
<circle cx="513.5" cy="1415.4" r="4.95"/>
<circle cx="601.5" cy="1371.0" r="4.95"/>
<circle cx="504.9" cy="1429.7" r="4.95"/>
<circle cx="173.6" cy="1459.0" r="4.95"/>
<circle cx="177.8" cy="1458.0" r="4.95"/>
<circle cx="221.2" cy="1492.8" r="4.95"/>
<circle cx="344.8" cy="1423.9" r="4.95"/>
<circle cx="328.6" cy="1435.1" r="4.95"/>
<circle cx="330.9" cy="1455.9" r="4.95"/>
<circle cx="375.4" cy="1451.4" r="4.95"/>
<circle cx="380.2" cy="1457.8" r="4.95"/>
<circle cx="380.2" cy="1464.4" r="4.95"/>
<circle cx="378.4" cy="1470.2" r="4.95"/>
<circle cx="371.8" cy="1467.1" r="4.95"/>
<circle cx="371.4" cy="1470.8" r="4.95"/>
<circle cx="375.1" cy="1480.1" r="4.95"/>
<circle cx="367.0" cy="1483.4" r="4.95"/>
<circle cx="390.0" cy="1473.5" r="4.95"/>
<circle cx="407.6" cy="1493.9" r="4.95"/>
<circle cx="375.3" cy="1506.3" r="4.95"/>
<circle cx="380.2" cy="1520.7" r="4.95"/>
<circle cx="456.1" cy="1456.8" r="4.95"/>
<circle cx="438.3" cy="1466.2" r="4.95"/>
<circle cx="437.8" cy="1478.1" r="4.95"/>
<circle cx="456.4" cy="1491.0" r="4.95"/>
<circle cx="433.2" cy="1526.2" r="4.95"/>
<circle cx="427.7" cy="1542.4" r="4.95"/>
<circle cx="449.2" cy="1545.1" r="4.95"/>
<circle cx="296.9" cy="1552.3" r="4.95"/>
<circle cx="377.5" cy="1545.3" r="4.95"/>
<line x1="134.1" y1="1364.0" x2="601.8" y2="1366.7" stroke="#858585" stroke-width="1.8"/>
<text x="277.1" y="1142.4" font-family='"Liberation Serif", serif' font-weight="bold" font-size="34" textLength="14.8" lengthAdjust="spacingAndGlyphs">c</text>
<text x="299.7" y="1142.4" font-family='"Liberation Serif", serif' font-size="26.5" textLength="192.2" lengthAdjust="spacingAndGlyphs" stroke="#fff" stroke-width="0.3">Large Industries</text>
</svg>
</body></html>
